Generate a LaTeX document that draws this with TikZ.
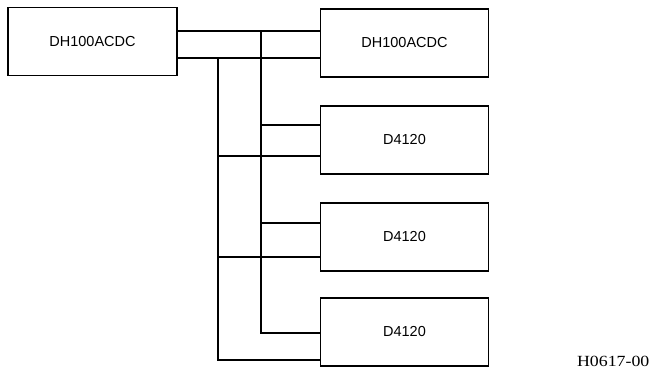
\documentclass[tikz,border=0pt]{standalone}
\usepackage{fontspec}
\setmainfont{Liberation Serif}
\newfontfamily\boxfont{Liberation Sans}
\begin{document}
\begin{tikzpicture}[x=1pt,y=-1pt,line width=1.1pt,
  unit/.style={draw,line width=1.1pt,minimum width=169pt,minimum height=68pt,inner sep=0pt,font=\boxfont\fontsize{14.5}{16}\selectfont},
  wire/.style={line width=1.1pt}]
\useasboundingbox (0,0) rectangle (652,369);
\node[unit,minimum width=169pt] (src) at (92.5,41.5) {DH100ACDC};
\node[unit,minimum width=168pt] (dst) at (404.5,43) {DH100ACDC};
\node[unit,minimum width=168pt] (d1) at (404.5,140) {D4120};
\node[unit,minimum width=168pt] (d2) at (404.5,237) {D4120};
\node[unit,minimum width=168pt] (d3) at (404.5,332) {D4120};
\coordinate (ja) at (261,31);
\coordinate (jb) at (218,58);
\coordinate (ea) at (261,333);
\coordinate (eb) at (218,360);
% bus lines
\draw[wire] (src.east |- ja) -- (dst.west |- ja);
\draw[wire] (src.east |- jb) -- (dst.west |- jb);
\draw[wire] (ja) -- (ea) -- (d3.west |- ea);
\draw[wire] (jb) -- (eb) -- (d3.west |- eb);
\draw[wire] (ja |- 0,125) -- (d1.west |- 0,125);
\draw[wire] (jb |- 0,156) -- (d1.west |- 0,156);
\draw[wire] (ja |- 0,223) -- (d2.west |- 0,223);
\draw[wire] (jb |- 0,257) -- (d2.west |- 0,257);
\node[font=\fontsize{15.5}{17}\selectfont,anchor=base east,inner sep=0pt,xscale=1.15,transform shape] (tag) at (650,366) {H0617-00};
\end{tikzpicture}
\end{document}
